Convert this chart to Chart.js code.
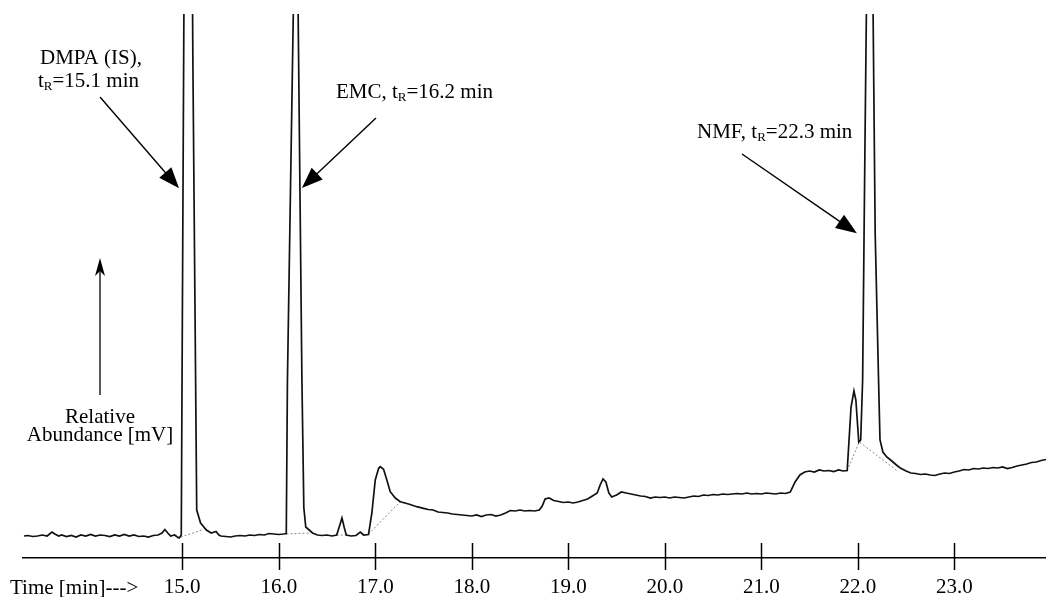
<!DOCTYPE html>
<html>
<head>
<meta charset="utf-8">
<script src="https://cdn.jsdelivr.net/npm/chart.js@4/dist/chart.umd.min.js"></script>
<style>
  html, body { margin: 0; padding: 0; background: #fff; }
  #wrap { width: 1046px; height: 597px; position: relative; }
</style>
</head>
<body>
<div id="wrap"><canvas id="chromatogram"></canvas></div>
<script>
// retention time [min]
const times = [
  13.36, 13.40, 13.45, 13.50, 13.55, 13.60, 13.65, 13.68, 13.72, 13.75,
  13.80, 13.85, 13.90, 13.95, 14.00, 14.05, 14.10, 14.15, 14.20, 14.25,
  14.30, 14.35, 14.40, 14.45, 14.50, 14.55, 14.60, 14.65, 14.70, 14.75,
  14.79, 14.82, 14.85, 14.88, 14.92, 14.95, 14.97, 14.99, 15.02, 15.065,
  15.11, 15.15, 15.19, 15.25, 15.30, 15.35, 15.38, 15.40, 15.45, 15.50,
  15.55, 15.60, 15.65, 15.70, 15.75, 15.80, 15.85, 15.90, 15.95, 16.00,
  16.05, 16.078, 16.09, 16.16, 16.177, 16.195, 16.24, 16.26, 16.28, 16.35,
  16.40, 16.45, 16.50, 16.55, 16.60, 16.63, 16.655, 16.68, 16.70, 16.75,
  16.80, 16.845, 16.88, 16.93, 16.965, 17.00, 17.035, 17.052, 17.086, 17.12,
  17.155, 17.21, 17.26, 17.345, 17.43, 17.50, 17.55, 17.60, 17.65, 17.70,
  17.75, 17.80, 17.85, 17.90, 17.95, 18.00, 18.05, 18.10, 18.15, 18.20,
  18.25, 18.30, 18.35, 18.40, 18.45, 18.50, 18.55, 18.60, 18.65, 18.70,
  18.73, 18.76, 18.80, 18.85, 18.90, 18.95, 19.00, 19.05, 19.10, 19.15,
  19.20, 19.25, 19.30, 19.33, 19.36, 19.39, 19.42, 19.45, 19.50, 19.55,
  19.60, 19.65, 19.70, 19.75, 19.80, 19.85, 19.90, 19.95, 20.00, 20.05,
  20.10, 20.15, 20.20, 20.25, 20.30, 20.35, 20.40, 20.45, 20.50, 20.55,
  20.60, 20.65, 20.70, 20.75, 20.80, 20.85, 20.90, 20.95, 21.00, 21.05,
  21.10, 21.15, 21.20, 21.25, 21.30, 21.35, 21.40, 21.45, 21.50, 21.55,
  21.60, 21.65, 21.70, 21.75, 21.80, 21.85, 21.89, 21.93, 21.96, 21.98,
  22.01, 22.03, 22.05, 22.065, 22.075, 22.095, 22.125, 22.155, 22.18, 22.215,
  22.23, 22.26, 22.30, 22.34, 22.40, 22.44, 22.50, 22.55, 22.60, 22.65,
  22.70, 22.75, 22.80, 22.85, 22.90, 22.95, 23.00, 23.05, 23.10, 23.15,
  23.20, 23.25, 23.30, 23.35, 23.40, 23.45, 23.50, 23.55, 23.60, 23.65,
  23.70, 23.75, 23.80, 23.85, 23.90, 23.95
];
// detector signal [mV], big peaks run off the top of the plot
const signal = [
  2.20, 2.25, 2.15, 2.20, 2.30, 2.20, 2.60, 2.40, 2.20, 2.30,
  2.15, 2.25, 2.10, 2.30, 2.20, 2.35, 2.20, 2.30, 2.25, 2.15,
  2.30, 2.20, 2.35, 2.20, 2.30, 2.15, 2.20, 2.10, 2.25, 2.30,
  2.50, 2.85, 2.50, 2.20, 2.30, 2.10, 2.00, 2.30, 60, 120,
  50, 4.80, 3.50, 2.80, 2.50, 2.65, 2.30, 2.20, 2.15, 2.10,
  2.20, 2.25, 2.20, 2.30, 2.25, 2.35, 2.30, 2.45, 2.40, 2.35,
  2.40, 2.45, 17.8, 60, 100, 60, 17.8, 5.00, 3.10, 2.50,
  2.30, 2.25, 2.30, 2.20, 2.30, 3.20, 4.00, 3.00, 2.30, 2.20,
  2.25, 2.60, 2.30, 2.35, 4.50, 7.80, 8.97, 9.13, 8.87, 7.80,
  6.63, 5.97, 5.63, 5.40, 5.13, 4.97, 4.85, 4.80, 4.60, 4.55,
  4.50, 4.40, 4.35, 4.30, 4.25, 4.20, 4.30, 4.15, 4.30, 4.35,
  4.20, 4.30, 4.50, 4.75, 4.70, 4.80, 4.70, 4.75, 4.70, 4.80,
  5.20, 5.90, 6.00, 5.75, 5.65, 5.55, 5.60, 5.50, 5.60, 5.75,
  5.90, 6.20, 6.50, 7.30, 7.90, 7.60, 6.50, 6.10, 6.30, 6.60,
  6.50, 6.40, 6.30, 6.20, 6.15, 6.00, 6.10, 6.05, 6.10, 6.00,
  6.10, 6.05, 6.00, 6.10, 6.20, 6.15, 6.30, 6.25, 6.35, 6.30,
  6.40, 6.35, 6.40, 6.45, 6.40, 6.50, 6.40, 6.45, 6.40, 6.50,
  6.45, 6.40, 6.50, 6.45, 6.60, 7.60, 8.30, 8.60, 8.70, 8.60,
  8.80, 8.70, 8.75, 8.65, 8.80, 8.70, 8.75, 15.1, 16.7, 15.8,
  11.6, 11.8, 17.8, 32.5, 42.0, 60, 120, 58, 32.5, 17.8,
  11.8, 10.6, 10.1, 9.80, 9.30, 9.00, 8.70, 8.50, 8.45, 8.35,
  8.40, 8.30, 8.25, 8.40, 8.50, 8.45, 8.60, 8.70, 8.85, 8.80,
  8.95, 8.90, 9.00, 8.95, 9.05, 9.00, 9.10, 8.95, 9.05, 9.20,
  9.30, 9.40, 9.55, 9.60, 9.75, 9.85
];
// integration baselines drawn under the peaks [time, mV]
const baselineSegments = [
  [[14.945, 1.97], [15.205, 2.80]],
  [[16.08, 2.40], [16.32, 2.50]],
  [[16.60, 2.30], [16.70, 2.30]],
  [[16.93, 2.40], [17.26, 5.63]],
  [[21.89, 8.73], [22.015, 11.6], [22.42, 8.63]]
];
const tickValues = [15, 16, 17, 18, 19, 20, 21, 22, 23];
const peakNames = ['DMPA (IS),', 'EMC,', 'NMF,'];
const retentionTimes = [15.1, 16.2, 22.3];
// where the arrows point [time, mV]
const arrowTips = [[14.967, 36.97], [16.24, 37.0], [21.99, 32.47]];

const serif = '"Liberation Serif", "Times New Roman", serif';

function drawRuns(ctx, x, y, runs) {
  let cx = x;
  runs.forEach(r => {
    ctx.font = (r.sub ? 13 : 21) + 'px ' + serif;
    ctx.fillText(r.text, cx, y + (r.sub ? 3 : 0));
    cx += ctx.measureText(r.text).width;
  });
}

function centered(ctx, cx, y, text) {
  ctx.font = '21px ' + serif;
  const w = ctx.measureText(text).width;
  ctx.fillText(text, cx - w / 2, y);
}

function tR(i) {
  return [{ text: 't' }, { text: 'R', sub: true }, { text: '=' + retentionTimes[i].toFixed(1) + ' min' }];
}

function arrow(ctx, x1, y1, x2, y2, len, half, notch) {
  const a = Math.atan2(y2 - y1, x2 - x1);
  const c = Math.cos(a), s = Math.sin(a);
  const bx = x2 - c * len, by = y2 - s * len;
  ctx.beginPath();
  ctx.moveTo(x1, y1);
  ctx.lineTo(x2 - c * (len - notch - 1), y2 - s * (len - notch - 1));
  ctx.stroke();
  ctx.beginPath();
  ctx.moveTo(x2, y2);
  ctx.lineTo(bx - s * half, by + c * half);
  ctx.lineTo(bx + c * notch, by + s * notch);
  ctx.lineTo(bx + s * half, by - c * half);
  ctx.closePath();
  ctx.fill();
}

const annotations = {
  id: 'annotations',
  afterDraw(chart) {
    const ctx = chart.ctx;
    const xs = chart.scales.x, ys = chart.scales.y;
    const axisY = chart.chartArea.bottom;
    ctx.save();
    ctx.strokeStyle = '#000';
    ctx.fillStyle = '#000';
    ctx.textAlign = 'left';
    ctx.textBaseline = 'alphabetic';

    // tick marks crossing the time axis
    ctx.lineWidth = 1.5;
    tickValues.forEach(v => {
      const px = Math.round(xs.getPixelForValue(v)) + 0.5;
      ctx.beginPath();
      ctx.moveTo(px, axisY - 15);
      ctx.lineTo(px, axisY + 12);
      ctx.stroke();
    });

    drawRuns(ctx, 10, 594, [{ text: 'Time [min]--->' }]);

    // peak labels
    drawRuns(ctx, 40, 64, [{ text: peakNames[0] }]);
    drawRuns(ctx, 38, 87, tR(0));
    drawRuns(ctx, 336, 98, [{ text: peakNames[1] + ' ' }].concat(tR(1)));
    drawRuns(ctx, 697, 138, [{ text: peakNames[2] + ' ' }].concat(tR(2)));

    // arrows
    const starts = [[100, 97], [376, 118], [742, 154]];
    ctx.lineWidth = 1.4;
    arrowTips.forEach((t, i) => {
      const tx = xs.getPixelForValue(t[0]), ty = ys.getPixelForValue(t[1]);
      arrow(ctx, starts[i][0], starts[i][1], tx, ty, 21, 8, 0);
    });

    // y axis hint
    ctx.lineWidth = 1.3;
    arrow(ctx, 100, 395, 100, 258, 18, 5, 5);
    centered(ctx, 100, 423, 'Relative');
    centered(ctx, 100, 441, 'Abundance [mV]');
    ctx.restore();
  }
};

const trace = times.map((t, i) => ({ x: t, y: signal[i] }));

const datasets = [{
  data: trace,
  borderColor: '#111',
  borderWidth: 1.7,
  pointRadius: 0,
  tension: 0
}];
baselineSegments.forEach(seg => {
  datasets.push({
    data: seg.map(p => ({ x: p[0], y: p[1] })),
    borderColor: '#888',
    borderWidth: 1,
    borderDash: [2, 2],
    pointRadius: 0,
    tension: 0
  });
});

new Chart(document.getElementById('chromatogram'), {
  type: 'line',
  data: { datasets: datasets },
  options: {
    responsive: true,
    maintainAspectRatio: false,
    animation: false,
    events: [],
    layout: { padding: { left: 23, right: 0, top: 14, bottom: 0 } },
    plugins: { legend: { display: false }, tooltip: { enabled: false } },
    scales: {
      x: {
        type: 'linear',
        min: 13.35,
        max: 23.95,
        grid: { display: false, drawTicks: false },
        border: { display: true, color: '#000', width: 1.5 },
        ticks: {
          color: '#000',
          font: { family: serif, size: 21, lineHeight: 1.2 },
          padding: 17,
          maxRotation: 0,
          autoSkip: false,
          callback: v => Number(v).toFixed(1)
        },
        afterBuildTicks: s => { s.ticks = tickValues.map(v => ({ value: v })); },
        afterFit: s => { s.height = 39; }
      },
      y: {
        display: false,
        min: 0,
        max: 54.4
      }
    }
  },
  plugins: [annotations]
});
</script>
</body>
</html>
